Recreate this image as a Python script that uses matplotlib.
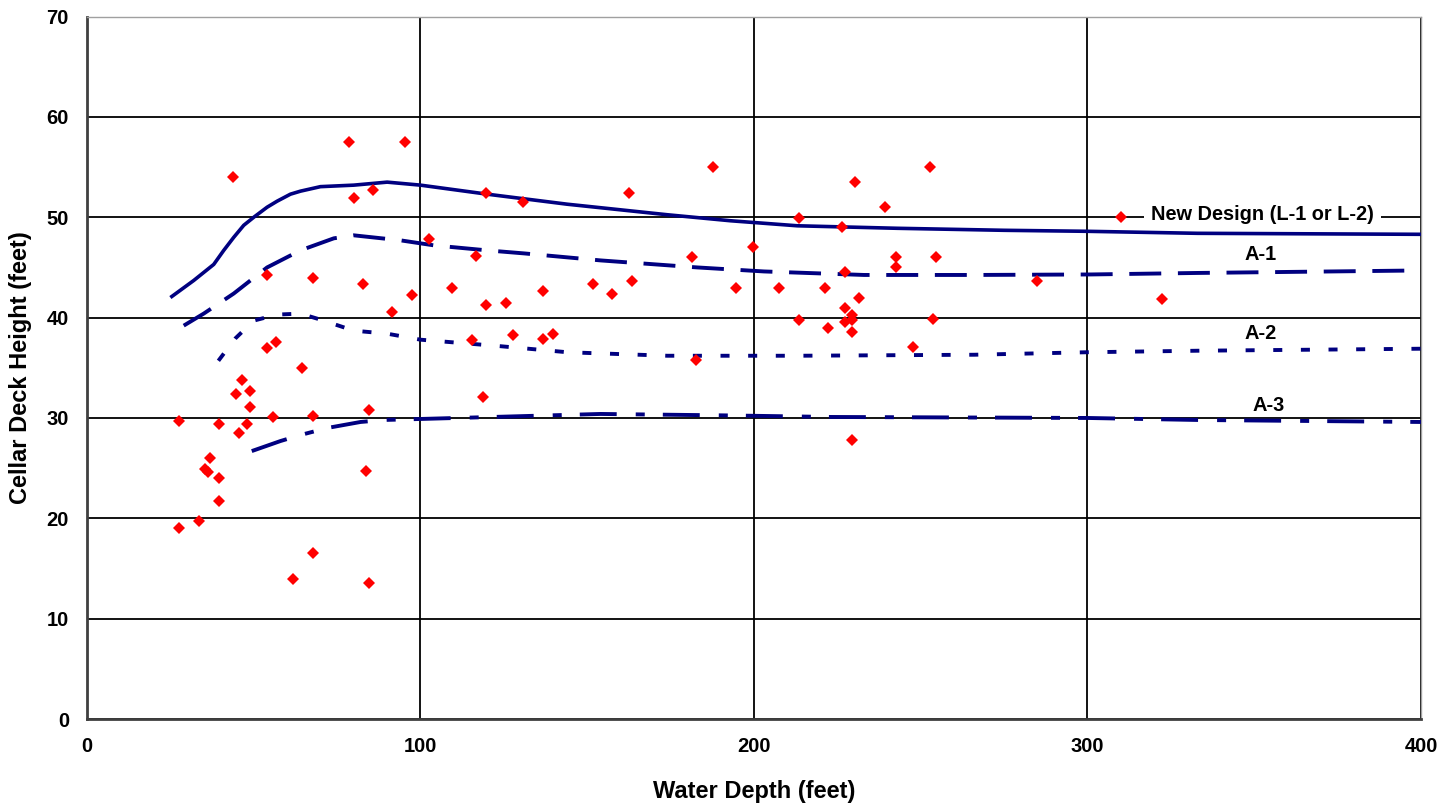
import numpy as np
import matplotlib
matplotlib.use("Agg")
import matplotlib.pyplot as plt

plt.rcParams['font.family'] = ['Liberation Sans', 'DejaVu Sans']
plt.rcParams['lines.scale_dashes'] = False

# field data (water depth, cellar deck height)
depth = [27.7, 27.7, 33.6, 35.5, 36.2, 36.9, 39.6, 39.6, 39.6, 43.8,
         44.7, 45.7, 46.6, 48.0, 49.0, 49.0, 53.9, 53.9, 55.9, 56.8,
         61.8, 64.5, 67.7, 67.8, 67.8, 78.5, 80.0, 82.7, 83.6, 84.5,
         84.5, 85.9, 91.4, 95.5, 97.4, 102.5, 109.3, 115.5, 116.5, 118.7,
         119.7, 119.7, 125.5, 127.6, 130.6, 136.7, 136.7, 139.6, 151.6, 157.5,
         162.6, 163.5, 181.5, 182.5, 187.6, 194.6, 199.7, 207.5, 213.5, 213.6,
         221.4, 222.3, 226.4, 227.3, 227.4, 227.4, 229.4, 229.4, 229.3, 229.3,
         230.2, 231.6, 239.4, 242.6, 242.6, 247.7, 252.8, 253.6, 254.7, 285.0,
         310.2, 322.3]
height = [29.7, 19.0, 19.7, 24.9, 24.6, 26.0, 24.0, 21.7, 29.4, 54.0,
          32.4, 28.5, 33.8, 29.4, 32.7, 31.1, 44.2, 37.0, 30.1, 37.6,
          14.0, 35.0, 43.9, 30.2, 16.5, 57.5, 51.9, 43.3, 24.7, 30.8,
          13.6, 52.7, 40.6, 57.5, 42.3, 47.8, 43.0, 37.8, 46.1, 32.1,
          52.4, 41.3, 41.5, 38.3, 51.5, 42.7, 37.9, 38.4, 43.35, 42.4,
          52.4, 43.65, 46.0, 35.8, 55.0, 43.0, 47.0, 43.0, 49.95, 39.8,
          43.0, 39.0, 49.05, 44.5, 41.0, 39.6, 40.3, 39.8, 38.6, 27.8,
          53.5, 41.95, 51.0, 46.0, 45.0, 37.1, 55.0, 39.9, 46.0, 43.6,
          50.0, 41.9]

# design curves
nd_x = [25, 32, 38, 41, 44, 47, 50, 52, 54, 57, 61, 64, 70, 80, 90, 100, 120, 144, 174, 193,
        213, 243, 275, 300, 333, 400]
nd_y = [42.0, 43.7, 45.3, 46.7, 48.0, 49.2, 50.0, 50.5, 51.0, 51.6, 52.3, 52.6, 53.05, 53.2,
        53.5, 53.2, 52.3, 51.3, 50.25, 49.65, 49.15, 48.9, 48.7, 48.6, 48.4, 48.3]
a1_x = [29, 35, 44, 54, 64, 74, 80, 94, 104, 120, 131, 154, 183, 203, 233, 266, 301, 333, 400]
a1_y = [39.2, 40.4, 42.4, 45.0, 46.7, 47.9, 48.2, 47.7, 47.2, 46.7, 46.4, 45.7, 45.0, 44.6, 44.25,
        44.25, 44.3, 44.45, 44.7]
a2_x = [39.4, 44.4, 50, 57, 64, 70, 80, 90, 100, 124, 144, 174, 213, 266, 300, 333, 400]
a2_y = [35.7, 37.9, 39.7, 40.3, 40.4, 39.8, 38.7, 38.4, 37.8, 37.15, 36.55, 36.2, 36.2, 36.3,
        36.55, 36.7, 36.9]
a3_x = [49.4, 58, 64, 72, 82, 89, 100, 154, 193, 223, 300, 333, 400]
a3_y = [26.7, 27.7, 28.3, 29.0, 29.6, 29.8, 29.9, 30.4, 30.25, 30.1, 30.0, 29.8, 29.6]

navy = '#000080'

fig = plt.figure(figsize=(14.55, 8.07), dpi=100)
ax = fig.add_axes([0.0598, 0.109, 0.9168, 0.8705])

ax.plot(nd_x, nd_y, color=navy, lw=2.6, solid_capstyle='butt', zorder=3)
ax.plot(a1_x, a1_y, color=navy, lw=2.8, dashes=(23, 12), dash_capstyle='butt', zorder=3)
ax.plot(a2_x, a2_y, color=navy, lw=2.8, dashes=(6.5, 13.4), dash_capstyle='butt', zorder=3)
ax.plot(a3_x, a3_y, color=navy, lw=2.8, dashes=(26.6, 13.7, 6.5, 13), dash_capstyle='butt', zorder=3)

ax.plot(depth, height, ls='none', marker='D', ms=6, color='#ff0000', mew=0, zorder=4)

ax.text(319.2, 50.25, 'New Design (L-1 or L-2)', fontsize=14.4, fontweight='bold',
        ha='left', va='center', zorder=2,
        bbox=dict(facecolor='white', edgecolor='none', pad=5))
ax.text(352.0, 46.3, 'A-1', fontsize=14.4, fontweight='bold', ha='center', va='center')
ax.text(352.0, 38.4, 'A-2', fontsize=14.4, fontweight='bold', ha='center', va='center')
ax.text(354.4, 31.2, 'A-3', fontsize=14.4, fontweight='bold', ha='center', va='center')

ax.set_xlim(0, 400)
ax.set_ylim(0, 70)
ax.set_xticks([0, 100, 200, 300, 400])
ax.set_yticks(range(0, 71, 10))
ax.grid(True, color='black', lw=1.3, zorder=1)
ax.set_axisbelow(True)
ax.tick_params(length=0, labelsize=14.5, pad=13)
for lab in ax.get_xticklabels() + ax.get_yticklabels():
    lab.set_fontweight('bold')

for s in ['left', 'bottom']:
    ax.spines[s].set_color('#404040')
    ax.spines[s].set_linewidth(2)
for s in ['top', 'right']:
    ax.spines[s].set_color('#a0a0a0')
    ax.spines[s].set_linewidth(1)

ax.set_xlabel('Water Depth (feet)', fontsize=17, fontweight='bold')
ax.set_ylabel('Cellar Deck Height (feet)', fontsize=17, fontweight='bold')
ax.xaxis.set_label_coords(0.5, -0.0866)
ax.yaxis.set_label_coords(-0.0412, 0.5)

fig.savefig('out.png', dpi=100, facecolor='white')
